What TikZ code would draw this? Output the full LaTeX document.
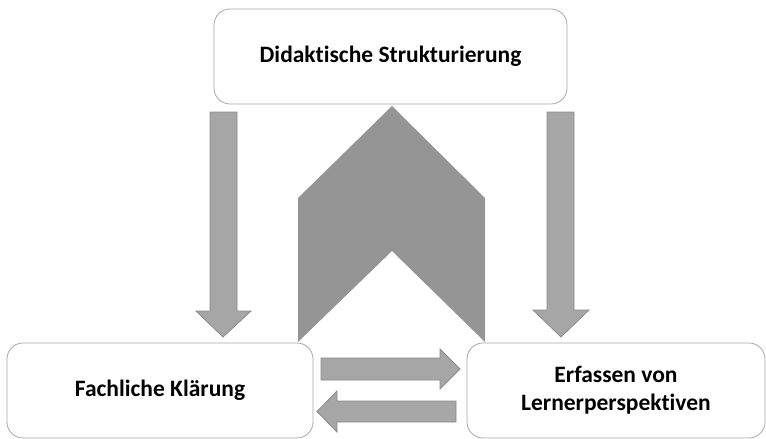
\documentclass[tikz,border=0pt]{standalone}
\usepackage{fontspec}
\setmainfont{Carlito}[Ligatures=NoCommon]
\definecolor{arrowfill}{HTML}{A6A6A6}
\definecolor{arrowline}{HTML}{8A8A8A}
\definecolor{chevfill}{HTML}{959595}
\definecolor{boxline}{HTML}{A8A8A8}
\tikzset{
  box/.style={draw=boxline, line width=0.8pt, rounded corners=16pt, fill=white,
    align=center, font=\bfseries\fontsize{23.5}{28}\selectfont, inner sep=0pt},
  blockarrow/.style={fill=arrowfill, draw=arrowline, line width=0.8pt},
  chevron/.style={fill=chevfill, draw=none}
}
\begin{document}
\begin{tikzpicture}[x=1pt,y=-1pt]
\useasboundingbox (0,0) rectangle (766,439);
% chevron
\draw[chevron] (298,342) -- (298,198) -- (392,106) -- (485,198) -- (485,342) -- (392,251) -- cycle;
% down arrows
\draw[blockarrow] (210,112) -- (237,112) -- (237,311) -- (251,311) -- (223,337) -- (196,311) -- (210,311) -- cycle;
\draw[blockarrow] (547,112) -- (574,112) -- (574,310) -- (589,310) -- (561,337) -- (533,310) -- (547,310) -- cycle;
% horizontal arrows
\draw[blockarrow] (321,358) -- (440,358) -- (440,349) -- (460,369) -- (440,389) -- (440,380) -- (321,380) -- cycle;
\draw[blockarrow] (456,401) -- (337,401) -- (337,391) -- (317,411.5) -- (337,432) -- (337,422) -- (456,422) -- cycle;
% boxes
\node[box, minimum width=353pt, minimum height=95pt] (ds) at (390.5,56.5) {Didaktische Strukturierung};
\node[box, minimum width=306pt, minimum height=95pt] (fk) at (160,390.5) {Fachliche Klärung};
\node[box, minimum width=298pt, minimum height=95pt] (el) at (616,390.5) {Erfassen von\\Lernerperspektiven};
\end{tikzpicture}
\end{document}
